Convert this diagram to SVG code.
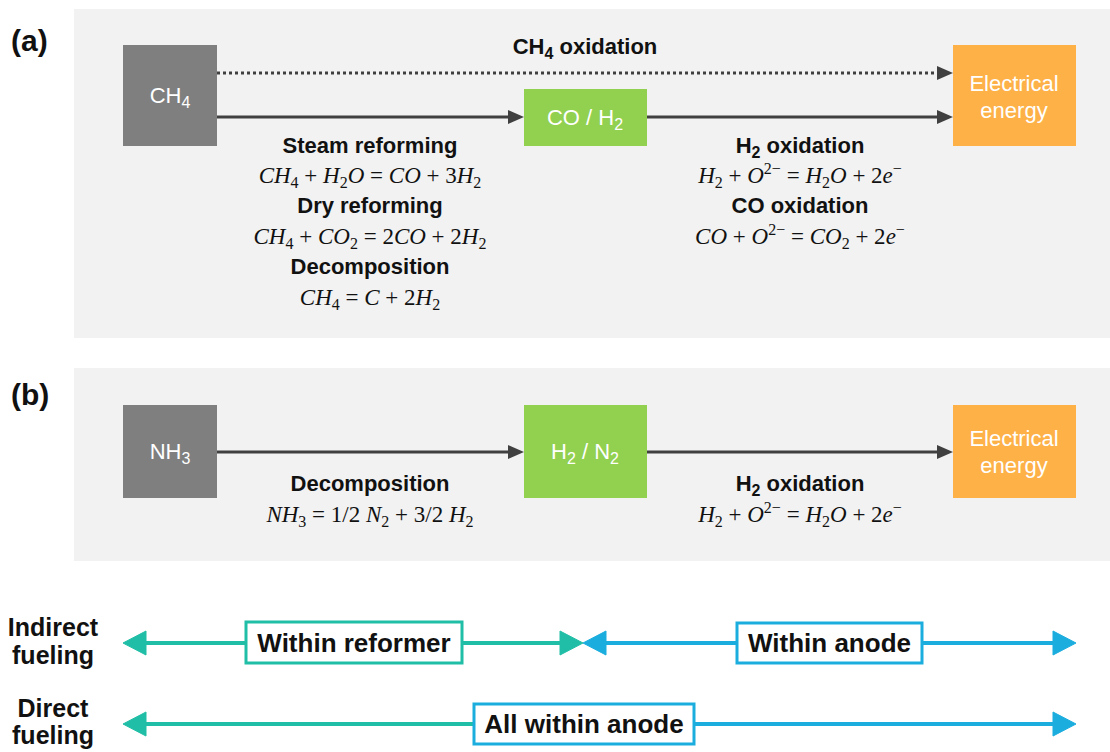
<svg xmlns="http://www.w3.org/2000/svg" width="1110" height="752" viewBox="0 0 1110 752">
<style>
.panel{fill:#f2f2f2}
.lbl{font-family:"Liberation Sans",Arial,sans-serif;font-weight:bold;font-size:30px;fill:#111}
.bold{font-family:"Liberation Sans",Arial,sans-serif;font-weight:bold;font-size:22px;fill:#111;text-anchor:middle}
.node{font-family:"Liberation Sans",Arial,sans-serif;font-size:22px;fill:#fff;text-anchor:middle}
.eq{font-family:"Liberation Serif","Times New Roman",serif;font-size:23px;fill:#111;text-anchor:middle}
.i{font-style:italic}
.sub{font-size:16px}
.gray{fill:#7f7f7f}
.green{fill:#92d050}
.orange{fill:#fdb147}
.arrow{stroke:#404040;stroke-width:3;fill:none}
.dot{stroke-dasharray:3 3}
.side{font-family:"Liberation Sans",Arial,sans-serif;font-weight:bold;font-size:25px;fill:#111;text-anchor:middle}
.box{font-family:"Liberation Sans",Arial,sans-serif;font-weight:bold;font-size:26px;fill:#111;text-anchor:middle}
.teal{stroke:#20bea6;fill:#20bea6}
.blue{stroke:#1badde;fill:#1badde}
</style>
<defs>
<marker id="ah" markerUnits="userSpaceOnUse" markerWidth="16" markerHeight="14" refX="8" refY="7" orient="auto">
<path d="M0,0 L16,7 L0,14 z" fill="#404040"/>
</marker>
</defs>

<!-- panels -->
<rect class="panel" x="74" y="9" width="1036" height="329"/>
<rect class="panel" x="74" y="368" width="1036" height="193"/>
<text class="lbl" x="11" y="51">(a)</text>
<text class="lbl" x="11" y="405">(b)</text>

<!-- connectors -->
<g id="connectors">
<line class="arrow dot" x1="217" y1="73" x2="945" y2="73" marker-end="url(#ah)"/>
<line class="arrow" x1="217" y1="117" x2="516" y2="117" marker-end="url(#ah)"/>
<line class="arrow" x1="647" y1="117" x2="945" y2="117" marker-end="url(#ah)"/>
<line class="arrow" x1="217" y1="452" x2="516" y2="452" marker-end="url(#ah)"/>
<line class="arrow" x1="647" y1="452" x2="945" y2="452" marker-end="url(#ah)"/>
</g>

<!-- panel a nodes -->
<g id="a-ch4">
<rect class="gray" x="123" y="45" width="94" height="101"/>
<text class="node" x="170" y="103">CH<tspan class="sub" dy="5">4</tspan></text>
</g>
<g id="a-coh2">
<rect class="green" x="524" y="89" width="123" height="57"/>
<text class="node" x="585" y="125">CO / H<tspan class="sub" dy="5">2</tspan></text>
</g>
<g id="a-elec">
<rect class="orange" x="953" y="45" width="123" height="101"/>
<text class="node" x="1014" y="91">Electrical</text>
<text class="node" x="1014" y="118">energy</text>
</g>

<g id="a-labels">
<text class="bold" x="585" y="54">CH<tspan class="sub" dy="5">4</tspan><tspan dy="-5"> oxidation</tspan></text>
<text class="bold" x="370" y="153">Steam reforming</text>
<text class="eq" x="370" y="183"><tspan class="i">CH</tspan><tspan class="sub" dy="5">4</tspan><tspan dy="-5"> + </tspan><tspan class="i">H</tspan><tspan class="sub" dy="5">2</tspan><tspan class="i" dy="-5">O</tspan> = <tspan class="i">CO</tspan> + 3<tspan class="i">H</tspan><tspan class="sub" dy="5">2</tspan></text>
<text class="bold" x="370" y="213">Dry reforming</text>
<text class="eq" x="370" y="244"><tspan class="i">CH</tspan><tspan class="sub" dy="5">4</tspan><tspan dy="-5"> + </tspan><tspan class="i">CO</tspan><tspan class="sub" dy="5">2</tspan><tspan dy="-5"> = 2</tspan><tspan class="i">CO</tspan> + 2<tspan class="i">H</tspan><tspan class="sub" dy="5">2</tspan></text>
<text class="bold" x="370" y="274">Decomposition</text>
<text class="eq" x="370" y="305"><tspan class="i">CH</tspan><tspan class="sub" dy="5">4</tspan><tspan dy="-5"> = </tspan><tspan class="i">C</tspan> + 2<tspan class="i">H</tspan><tspan class="sub" dy="5">2</tspan></text>

<text class="bold" x="800" y="153">H<tspan class="sub" dy="5">2</tspan><tspan dy="-5"> oxidation</tspan></text>
<text class="eq" x="800" y="183"><tspan class="i">H</tspan><tspan class="sub" dy="5">2</tspan><tspan dy="-5"> + </tspan><tspan class="i">O</tspan><tspan class="sub" dy="-9">2−</tspan><tspan dy="9"> = </tspan><tspan class="i">H</tspan><tspan class="sub" dy="5">2</tspan><tspan class="i" dy="-5">O</tspan> + 2<tspan class="i">e</tspan><tspan class="sub" dy="-9">−</tspan></text>
<text class="bold" x="800" y="213">CO oxidation</text>
<text class="eq" x="800" y="244"><tspan class="i">CO</tspan> + <tspan class="i">O</tspan><tspan class="sub" dy="-9">2−</tspan><tspan dy="9"> = </tspan><tspan class="i">CO</tspan><tspan class="sub" dy="5">2</tspan><tspan dy="-5"> + 2</tspan><tspan class="i">e</tspan><tspan class="sub" dy="-9">−</tspan></text>
</g>

<!-- panel b nodes -->
<g id="b-nh3">
<rect class="gray" x="123" y="405" width="94" height="93"/>
<text class="node" x="170" y="459">NH<tspan class="sub" dy="5">3</tspan></text>
</g>
<g id="b-h2n2">
<rect class="green" x="524" y="405" width="123" height="93"/>
<text class="node" x="585" y="459">H<tspan class="sub" dy="5">2</tspan><tspan dy="-5"> / N</tspan><tspan class="sub" dy="5">2</tspan></text>
</g>
<g id="b-elec">
<rect class="orange" x="953" y="405" width="123" height="93"/>
<text class="node" x="1014" y="446">Electrical</text>
<text class="node" x="1014" y="473">energy</text>
</g>
<g id="b-labels">
<text class="bold" x="370" y="491">Decomposition</text>
<text class="eq" x="370" y="522"><tspan class="i">NH</tspan><tspan class="sub" dy="5">3</tspan><tspan dy="-5"> = 1/2 </tspan><tspan class="i">N</tspan><tspan class="sub" dy="5">2</tspan><tspan dy="-5"> + 3/2 </tspan><tspan class="i">H</tspan><tspan class="sub" dy="5">2</tspan></text>
<text class="bold" x="800" y="491">H<tspan class="sub" dy="5">2</tspan><tspan dy="-5"> oxidation</tspan></text>
<text class="eq" x="800" y="522"><tspan class="i">H</tspan><tspan class="sub" dy="5">2</tspan><tspan dy="-5"> + </tspan><tspan class="i">O</tspan><tspan class="sub" dy="-9">2−</tspan><tspan dy="9"> = </tspan><tspan class="i">H</tspan><tspan class="sub" dy="5">2</tspan><tspan class="i" dy="-5">O</tspan> + 2<tspan class="i">e</tspan><tspan class="sub" dy="-9">−</tspan></text>
</g>

<!-- bottom scale -->
<g id="side-labels">
<text class="side" x="53" y="636">Indirect</text>
<text class="side" x="53" y="664">fueling</text>
<text class="side" x="53" y="717">Direct</text>
<text class="side" x="53" y="744">fueling</text>
</g>

<g id="indirect-arrows">
<line class="teal" x1="140" y1="643" x2="566" y2="643" stroke-width="4"/>
<polygon class="teal" stroke="none" points="123,643 146,631 146,655"/>
<polygon class="teal" stroke="none" points="583,643 560,631 560,655"/>
<line class="blue" x1="600" y1="643" x2="1060" y2="643" stroke-width="4"/>
<polygon class="blue" stroke="none" points="583,643 606,631 606,655"/>
<polygon class="blue" stroke="none" points="1076,643 1053,631 1053,655"/>
</g>
<g id="within-reformer">
<rect x="246" y="622" width="216" height="41" fill="#fff" stroke="#20bea6" stroke-width="3"/>
<text class="box" x="354" y="652">Within reformer</text>
</g>
<g id="within-anode">
<rect x="737" y="623" width="185" height="40" fill="#fff" stroke="#1badde" stroke-width="3"/>
<text class="box" x="829.5" y="652">Within anode</text>
</g>

<g id="direct-arrows">
<line class="teal" x1="140" y1="724" x2="474" y2="724" stroke-width="4"/>
<polygon class="teal" stroke="none" points="123,724 146,712 146,736"/>
<line class="blue" x1="694" y1="724" x2="1060" y2="724" stroke-width="4"/>
<polygon class="blue" stroke="none" points="1076,724 1053,712 1053,736"/>
</g>
<g id="all-within-anode">
<rect x="474" y="704" width="220" height="40" fill="#fff" stroke="#1badde" stroke-width="3"/>
<text class="box" x="584" y="733">All within anode</text>
</g>
</svg>
